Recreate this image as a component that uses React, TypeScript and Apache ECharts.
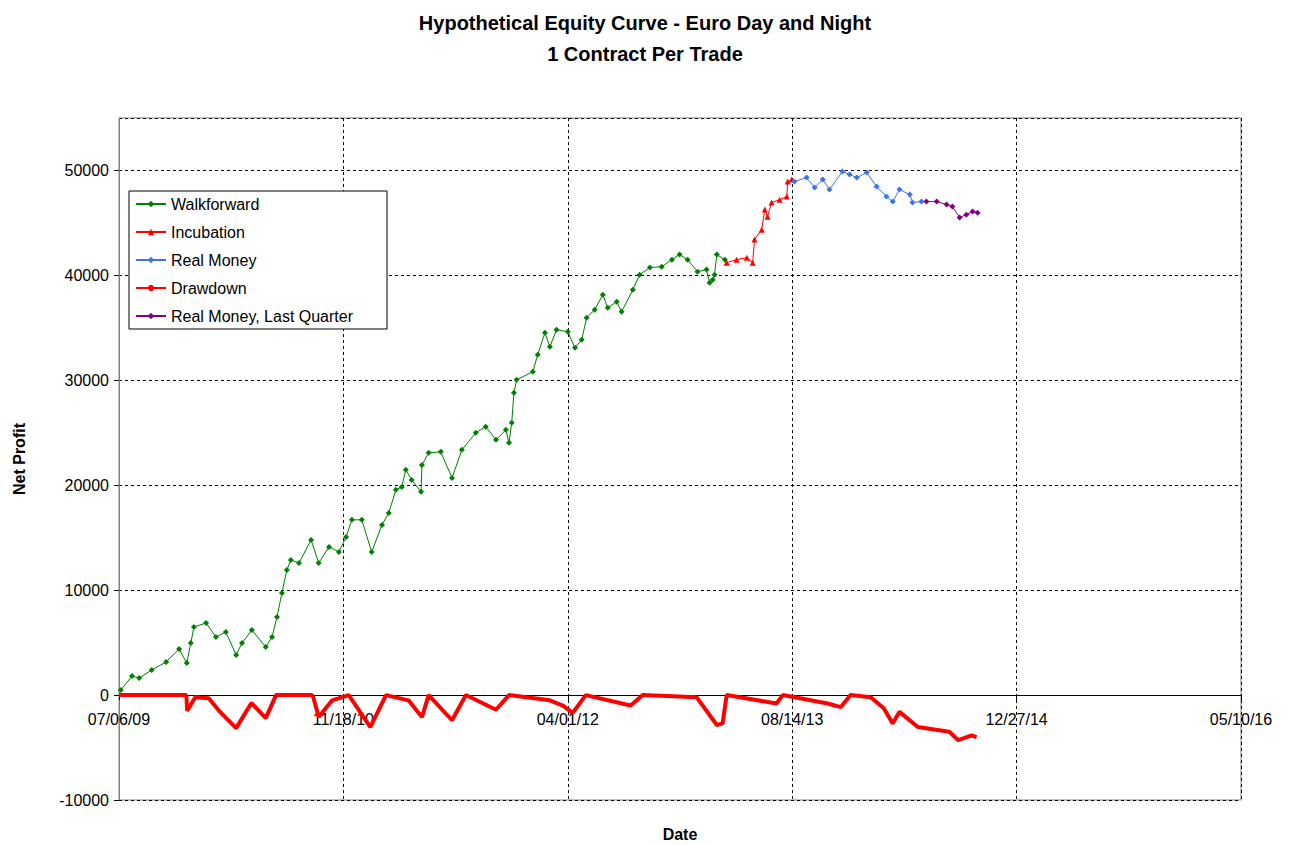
import * as echarts from "echarts";
import { useEffect, useRef } from "react";

// x = days since 07/06/09, y = net profit ($)
const walkforward: [number, number][] = [
  [4, 480], [29, 1810], [45, 1620], [73, 2390], [105, 3150], [134, 4390], [151, 3050], [160, 4960],
  [167, 6490], [194, 6870], [216, 5530], [238, 6010], [261, 3820], [274, 4960], [296, 6200], [327, 4580],
  [341, 5530], [352, 7440], [363, 9730], [374, 11930], [383, 12880], [401, 12590], [428, 14790], [445, 12590],
  [468, 14120], [490, 13640], [506, 15070], [519, 16700], [541, 16700], [563, 13640], [586, 16220], [601, 17360],
  [617, 19560], [630, 19840], [639, 21470], [652, 20510], [673, 19370], [675, 21940], [690, 23090], [717, 23180],
  [742, 20700], [764, 23370], [795, 25000], [817, 25570], [840, 24330], [862, 25280], [869, 24040], [875, 25950],
  [880, 28810], [886, 30050], [922, 30810], [933, 32440], [949, 34530], [960, 33200], [975, 34820], [1000, 34630],
  [1016, 33100], [1031, 33870], [1042, 35970], [1060, 36730], [1078, 38160], [1089, 36920], [1109, 37490],
  [1120, 36540], [1145, 38640], [1160, 40070], [1183, 40740], [1209, 40830], [1232, 41500], [1249, 41980],
  [1267, 41500], [1289, 40350], [1309, 40550], [1316, 39300], [1323, 39590], [1327, 40070], [1332, 41980], [1350, 41500],
];
const incubation: [number, number][] = [
  [1354, 41210], [1376, 41500], [1399, 41690], [1412, 41210], [1416, 43410], [1432, 44360], [1439, 46270],
  [1445, 45600], [1454, 46940], [1472, 47220], [1488, 47510], [1490, 48940], [1499, 49130],
];
const realMoney: [number, number][] = [
  [1505, 48940], [1532, 49320], [1550, 48370], [1568, 49130], [1583, 48180], [1612, 49890], [1628, 49610],
  [1644, 49320], [1666, 49800], [1688, 48460], [1710, 47510], [1724, 47030], [1739, 48180], [1762, 47700],
  [1768, 46940], [1788, 47030],
];
const lastQuarter: [number, number][] = [
  [1799, 47030], [1822, 47030], [1844, 46750], [1857, 46560], [1873, 45510], [1888, 45790], [1902, 46080], [1913, 45980],
];
const drawdown: [number, number][] = [
  [0, 0], [150, 0], [152, -1500], [170, -200], [200, -300], [222, -1450], [261, -3150], [295, -750],
  [327, -2200], [350, 0], [430, 0], [433, -200], [445, -2100], [475, -500], [512, 0], [560, -3050], [595, 0],
  [645, -500], [675, -2100], [690, 0], [742, -2400], [773, 0], [840, -1400], [869, 0], [960, -500],
  [989, -1000], [1011, -1700], [1040, 0], [1140, -1000], [1167, 0], [1287, -200], [1332, -2850], [1345, -2700],
  [1354, 0], [1465, -800], [1479, 0], [1579, -800], [1608, -1150], [1630, 0], [1675, -200], [1704, -1250],
  [1724, -2700], [1739, -1600], [1780, -3050], [1850, -3500], [1870, -4300], [1900, -3850], [1911, -4000],
];

const startDate = Date.UTC(2009, 6, 6);
const fmtDate = (d: number) => {
  const t = new Date(startDate + d * 86400000);
  const p = (n: number) => String(n).padStart(2, "0");
  return `${p(t.getUTCMonth() + 1)}/${p(t.getUTCDate())}/${p(t.getUTCFullYear() % 100)}`;
};

const font = "Arial, 'Liberation Sans', sans-serif";

export default function App() {
  const ref = useRef<HTMLDivElement | null>(null);

  useEffect(() => {
    if (!ref.current) return;
    const chart = echarts.init(ref.current, null, { renderer: "svg" });
    const marked = (name: string, data: [number, number][], color: string, symbol: string) => ({
      name,
      type: "line",
      data,
      symbol,
      symbolSize: 6,
      showSymbol: true,
      lineStyle: { color, width: 1 },
      itemStyle: { color },
      z: 3,
    });
    chart.setOption({
      animation: false,
      textStyle: { fontFamily: font },
      title: [
        {
          text: "Hypothetical Equity Curve - Euro Day and Night\n1 Contract Per Trade",
          left: "center",
          top: 2,
          textStyle: { fontSize: 20, fontWeight: "bold", color: "#000", lineHeight: 31, fontFamily: font },
        },
        {
          text: "Date",
          left: 675,
          top: 821,
          textAlign: "center",
          textStyle: { fontSize: 16, fontWeight: "bold", color: "#000", fontFamily: font },
        },
      ],
      grid: { left: 119, right: 49, top: 118, bottom: 45, show: true, borderColor: "#808080", borderWidth: 1, outerBoundsMode: "none" },
      legend: {
        orient: "vertical",
        left: 129,
        top: 191,
        backgroundColor: "#fff",
        borderColor: "#000",
        borderWidth: 1,
        padding: [5, 34, 5, 6],
        itemGap: 12,
        itemWidth: 30,
        itemHeight: 8,
        textStyle: { fontSize: 16, color: "#000", fontFamily: font },
        data: ["Walkforward", "Incubation", "Real Money", "Drawdown", "Real Money, Last Quarter"],
      },
      xAxis: {
        type: "value",
        min: 0,
        max: 2500,
        interval: 500,
        offset: -105,
        axisLine: { show: true, onZero: false, lineStyle: { color: "#000", width: 1 } },
        axisTick: { show: true, inside: false, length: 5, lineStyle: { color: "#000" } },
        axisLabel: { fontSize: 16, color: "#000", margin: 16, formatter: (v: number) => fmtDate(v) },
        splitLine: { show: true, lineStyle: { color: "#000", type: [3, 3], width: 1 } },
      },
      yAxis: {
        type: "value",
        min: -10000,
        max: 55000,
        interval: 10000,
        name: "Net Profit",
        nameLocation: "middle",
        nameGap: 92,
        nameTextStyle: { fontSize: 16, fontWeight: "bold", color: "#000" },
        axisLine: { show: true, onZero: false, lineStyle: { color: "#808080" } },
        axisTick: { show: true, length: 5, lineStyle: { color: "#000" } },
        axisLabel: { fontSize: 16, color: "#000", margin: 10, showMaxLabel: false, formatter: (v: number) => String(v) },
        splitLine: { show: true, lineStyle: { color: "#000", type: [3, 3], width: 1 } },
      },
      series: [
        marked("Walkforward", walkforward, "#008000", "diamond"),
        marked("Incubation", incubation, "#ff0000", "triangle"),
        marked("Real Money", realMoney, "#3f74e6", "diamond"),
        {
          name: "Drawdown",
          type: "line",
          data: drawdown,
          showSymbol: false,
          symbol: "none",
          lineStyle: { color: "#ff0000", width: 4 },
          itemStyle: { color: "#ff0000" },
          z: 2,
        },
        marked("Real Money, Last Quarter", lastQuarter, "#800080", "diamond"),
      ],
    });
    return () => chart.dispose();
  }, []);

  return <div ref={ref} style={{ position: "fixed", left: 0, top: 0, width: 1290, height: 845, background: "#fff" }} />;
}
